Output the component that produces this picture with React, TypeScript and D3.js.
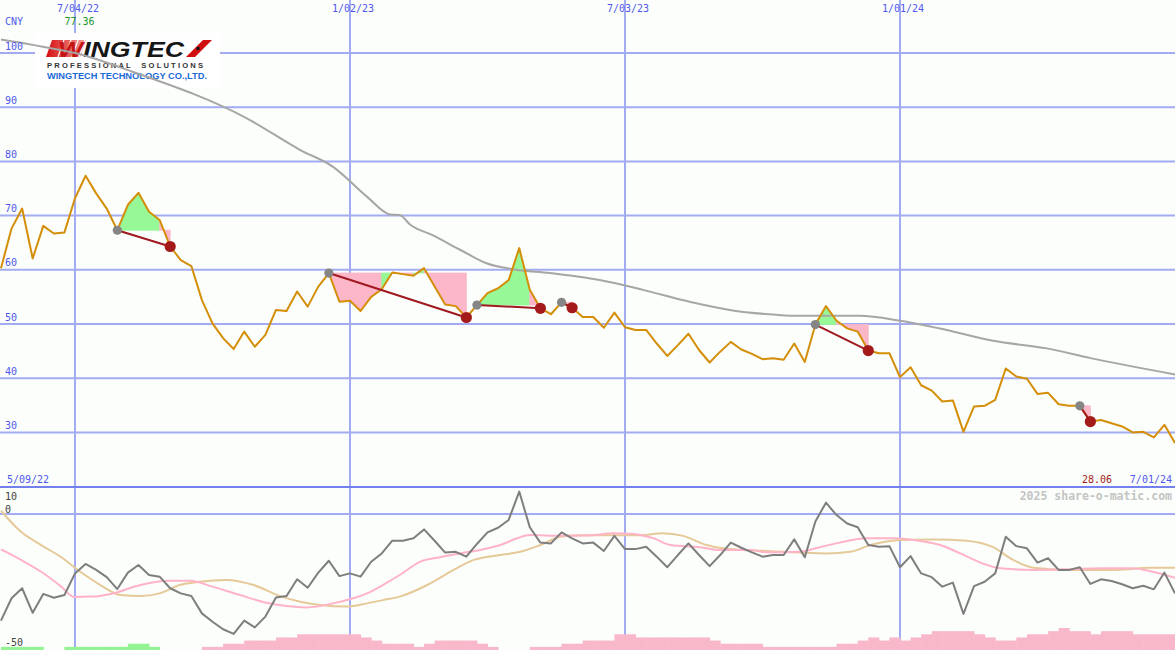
import React from "react";
import * as d3 from "d3";

// ---------- DATA ----------
const priceVals = [
  60.3, 67.6, 71.3, 62.1, 68.1, 66.7, 66.9, 73.2, 77.36, 74.1,
  71.3, 67.3, 72.0, 74.2, 70.7, 69.2, 64.3, 61.8, 60.7, 54.4,
  50.1, 47.4, 45.4, 48.6, 45.8, 48.0, 52.6, 52.4, 56.0, 53.2,
  56.9, 59.4, 54.1, 54.3, 52.4, 55.0, 56.4, 59.5, 59.2, 58.9,
  60.3, 56.9, 53.6, 53.3, 51.2, 53.5, 55.7, 56.6, 58.1, 64.0,
  56.3, 52.9, 51.8, 54.0, 53.0, 51.3, 51.3, 49.3, 52.1, 49.4,
  48.9, 48.9, 46.4, 44.1, 46.1, 48.2, 45.2, 42.9, 44.9, 46.7,
  45.3, 44.5, 43.5, 43.7, 43.4, 46.4, 43.0, 49.9, 53.3, 50.6,
  49.2, 48.6, 45.1, 44.6, 44.6, 40.2, 42.0, 38.7, 37.7, 35.7,
  35.9, 30.1, 34.8, 34.9, 36.0, 41.8, 40.3, 39.9, 37.1, 37.3,
  35.2, 34.9, 34.9, 32.0, 32.3, 31.7, 31.1, 30.0, 30.1, 29.1,
  31.4, 28.06,
];

const maIdx = [0, 3, 7.2, 12.5, 23.2, 28.3, 31.4, 34.6, 36.8, 37.7, 38.7, 40.8, 43.4, 45.9, 48.4, 51.9, 56.6, 60.7, 65.1, 68.9, 73.3, 75.5, 81.2, 85, 89.4, 93.8, 98.9, 103, 111];
const maVals = [102.5, 101.5, 99.9, 96.5, 88.0, 82.1, 79.0, 73.5, 70.2, 70.1, 68.3, 66.4, 63.7, 61.2, 60.1, 59.4, 58.1, 56.3, 54.1, 52.6, 51.7, 51.5, 51.5, 50.6, 48.9, 46.9, 45.5, 43.7, 40.7];

const oscVals = [
  -39.5, -31.2, -27.5, -36.6, -29.6, -31.0, -30.0, -22.0, -18.5, -20.7,
  -23.4, -27.8, -21.7, -18.9, -22.6, -23.2, -27.5, -29.4, -30.4, -36.8,
  -39.9, -42.7, -44.4, -39.5, -42.0, -38.0, -30.9, -30.4, -24.2, -27.3,
  -21.7, -17.3, -23.0, -22.0, -23.2, -17.7, -14.6, -9.9, -9.9, -9.0,
  -5.7, -9.9, -14.3, -14.0, -15.8, -11.1, -6.8, -5.1, -2.2, 8.3,
  -4.9, -10.6, -10.9, -6.8, -9.0, -10.9, -10.6, -13.7, -8.1, -13.0,
  -13.0, -12.1, -15.8, -19.7, -15.2, -10.9, -15.2, -19.3, -15.2, -10.6,
  -12.5, -14.2, -15.8, -15.2, -15.2, -9.4, -16.0, -2.8, 4.2, -0.4,
  -3.5, -4.9, -11.5, -12.1, -11.9, -19.7, -15.6, -22.0, -23.4, -26.9,
  -25.4, -37.0, -26.7, -25.1, -22.0, -8.4, -11.9, -12.7, -18.0, -16.4,
  -20.7, -20.7, -19.7, -25.9, -24.2, -24.8, -26.0, -27.5, -26.6, -27.9,
  -21.7, -29.4,
];

const oscPinkIdx = [0, 1.9, 3.8, 5.7, 6.9, 8.5, 10.4, 13.2, 15.7, 17.9, 20.0, 22.6, 25.1, 27.0, 28.9, 31.4, 33.3, 34.6, 36.1, 37.7, 39.6, 41.5, 43.4, 45.3, 47.2, 48.8, 50.0, 52.9, 55.4, 57.9, 59.8, 61.7, 63.3, 66.1, 68.0, 70.8, 72.4, 75.5, 77.4, 79.3, 81.8, 84.4, 86.3, 88.8, 90.7, 92.6, 94.5, 97.6, 100.8, 103.9, 107.0, 108.9, 111];
const oscPinkVals = [-13.1, -17.0, -21.4, -26.9, -30.7, -30.6, -29.6, -26.3, -24.7, -24.7, -26.9, -30.0, -32.9, -34.1, -34.6, -33.1, -31.2, -29.4, -26.3, -22.6, -17.7, -16.0, -14.6, -13.3, -11.5, -9.0, -7.8, -8.1, -8.0, -7.1, -7.4, -9.0, -11.5, -12.3, -13.3, -13.3, -14.2, -14.0, -12.3, -10.6, -9.0, -9.0, -9.6, -11.5, -14.6, -18.0, -20.1, -20.7, -20.5, -20.1, -20.1, -21.4, -23.6];

const oscTanIdx = [0, 1.9, 3.8, 5.7, 7.5, 9.4, 11.3, 13.2, 15.0, 16.9, 18.8, 21.3, 23.9, 26.4, 28.3, 30.2, 32.7, 34.6, 36.1, 37.7, 40.3, 42.8, 44.7, 47.2, 49.1, 51.0, 52.9, 54.7, 57.9, 60.4, 62.6, 64.5, 66.7, 69.2, 72.4, 75.5, 78.1, 80.3, 82.2, 85.0, 88.2, 91.3, 93.8, 95.7, 97.6, 100.8, 105.5, 108.7, 111];
const oscTanVals = [1.2, -6.6, -11.5, -16.0, -21.4, -26.3, -30.0, -30.4, -29.4, -26.3, -25.1, -24.4, -26.3, -30.4, -32.5, -33.7, -34.3, -33.1, -31.9, -30.6, -26.3, -20.7, -17.0, -15.2, -14.0, -11.5, -8.4, -7.9, -7.9, -7.9, -7.1, -8.1, -11.5, -13.1, -13.7, -14.3, -14.6, -14.0, -11.5, -9.6, -9.4, -9.9, -12.3, -17.0, -19.9, -20.7, -20.7, -19.9, -19.9];

// histogram: positive = green, negative = pink
const histVals = [
  1, 1, 1, 1, 0, 0, 1, 1, 1, 1,
  1, 1, 2, 2, 1, 0, 0, 0, 0, -1,
  -1, -2, -2, -3, -3, -3, -4, -4, -5, -5,
  -5, -5, -5, -5, -4, -3, -2, -2, -2, -1,
  -2, -3, -3, -3, -3, -2, -1, 0, 0, 0,
  -1, -1, -1, -2, -2, -3, -3, -3, -5, -5,
  -4, -4, -4, -4, -4, -4, -4, -3, -2, -2,
  -2, -2, -1, -1, -1, -1, -1, -1, -1, -2,
  -2, -3, -4, -3, -4, -3, -4, -5, -6, -6,
  -6, -6, -5, -4, -3, -3, -4, -5, -5, -6,
  -7, -6, -6, -5, -6, -6, -6, -5, -5, -5,
  -5,
];

const sigStart = [11, 31, 45, 53, 77, 102];
const sigEnd = [16, 44, 51, 54, 82, 103];

const priceTicks = [100, 90, 80, 70, 60, 50, 40, 30];
const dateTickIdx = [7, 33, 59, 85];
const dateTickLabels = ["7/04/22", "1/02/23", "7/03/23", "1/01/24"];

// ---------- CHART ----------
const W = 1175;
const H = 650;
const BLUE_TXT = "#5058ee";
const GRID = "#a3acf2";
const MONO = "'DejaVu Sans Mono', monospace";

export default function App() {
  const x = d3.scaleLinear().domain([7, 85]).range([75, 900]);
  const y = d3.scaleLinear().domain([30, 100]).range([432.4, 53]);
  const yo = d3.scaleLinear().domain([-50, 10]).range([649, 487]);
  const yh = d3.scaleLinear().domain([0, 7]).range([650, 628]);

  const priceLine = d3
    .line<number>()
    .x((_, i) => x(i))
    .y((d) => y(d));
  const maLine = d3
    .line<number>()
    .x((_, i) => x(maIdx[i]))
    .y((d) => y(d))
    .curve(d3.curveMonotoneX);
  const oscLine = d3
    .line<number>()
    .x((_, i) => x(i))
    .y((d) => yo(d));
  const pinkLine = d3
    .line<number>()
    .x((_, i) => x(oscPinkIdx[i]))
    .y((d) => yo(d))
    .curve(d3.curveMonotoneX);
  const tanLine = d3
    .line<number>()
    .x((_, i) => x(oscTanIdx[i]))
    .y((d) => yo(d))
    .curve(d3.curveMonotoneX);

  const step = x(1) - x(0);

  // signal fills
  const fills: { d: string; c: string }[] = [];
  sigStart.forEach((s, k) => {
    const e = sigEnd[k];
    const level = priceVals[s];
    for (let i = s; i < e; i++) {
      const seg = [i, i + 1];
      const area = d3
        .area<number>()
        .x((j) => x(j))
        .y0(() => y(level))
        .y1((j) => y(priceVals[j]));
      fills.push({
        d: area(seg) || "",
        c: priceVals[i + 1] >= level ? "#96f896" : "#fbb6c8",
      });
    }
  });

  return (
    <svg
      width={W}
      height={H}
      style={{ position: "absolute", left: 0, top: 0, display: "block" }}
    >
      <defs>
        <linearGradient id="redg" x1="0" x2="1" y1="0" y2="0">
          <stop offset="0%" stopColor="#d40e0e" />
          <stop offset="100%" stopColor="#f6a0a0" />
        </linearGradient>
        <clipPath id="topClip">
          <rect x={0} y={0} width={W} height={486} />
        </clipPath>
        <clipPath id="botClip">
          <rect x={0} y={488} width={W} height={162} />
        </clipPath>
      </defs>
      <rect x={0} y={0} width={W} height={H} fill="#fbfefb" />

      {/* horizontal grid */}
      {priceTicks.map((t) => (
        <line key={t} x1={0} x2={W} y1={y(t)} y2={y(t)} stroke={GRID} strokeWidth={2} />
      ))}
      <line x1={0} x2={W} y1={yo(0)} y2={yo(0)} stroke={GRID} strokeWidth={2} />

      {/* vertical grid */}
      {dateTickIdx.map((t) => (
        <line key={t} x1={x(t)} x2={x(t)} y1={0} y2={H} stroke={GRID} strokeWidth={2} />
      ))}
      <line x1={0} x2={W} y1={487} y2={487} stroke="#7480ee" strokeWidth={2} />

      {/* logo */}
      <g>
        <rect x={35} y={33} width={185} height={55} fill="#ffffff" />
        <polygon points="52,40 86,40 80,57 46,57" fill="url(#redg)" />
        {[0, 1, 2, 3].map((k) => (
          <line
            key={k}
            x1={58 + k * 7}
            y1={57}
            x2={64 + k * 7}
            y2={40}
            stroke="#ffffff"
            strokeWidth={1.2}
          />
        ))}
        <text
          x={58}
          y={56.5}
          fontFamily="'Liberation Sans', Arial, sans-serif"
          fontWeight="bold"
          fontStyle="italic"
          fontSize={22.5}
          textLength={126}
          lengthAdjust="spacingAndGlyphs"
          fill="#161616"
        >
          <tspan fill="#c41414">W</tspan>INGTEC
        </text>
        <polygon points="186,57 203,40 212,40 195,57" fill="#d01010" />
        <rect x={196.5} y={47} width={3} height={3} fill="#111" />
        <text
          x={47}
          y={67.5}
          fontFamily="'Liberation Sans', Arial, sans-serif"
          fontWeight="bold"
          fontSize={7.6}
          textLength={156}
          lengthAdjust="spacing"
          fill="#333"
          xmlSpace="preserve"
        >
          PROFESSIONAL  SOLUTIONS
        </text>
        <text
          x={47}
          y={78.5}
          fontFamily="'Liberation Sans', Arial, sans-serif"
          fontWeight="bold"
          fontSize={9.4}
          textLength={160}
          lengthAdjust="spacingAndGlyphs"
          fill="#1c6ad6"
        >
          WINGTECH TECHNOLOGY CO.,LTD.
        </text>
      </g>

      {/* top panel */}
      <g clipPath="url(#topClip)">
        {fills.map((f, i) => (
          <path key={i} d={f.d} fill={f.c} stroke={f.c} strokeWidth={0.8} />
        ))}
        <path d={maLine(maVals) || ""} fill="none" stroke="#a6a6a6" strokeWidth={2} />
        <path
          d={priceLine(priceVals) || ""}
          fill="none"
          stroke="#d48e08"
          strokeWidth={2}
          strokeLinejoin="round"
        />
        {sigStart.map((s, k) => (
          <line
            key={"t" + k}
            x1={x(s)}
            y1={y(priceVals[s])}
            x2={x(sigEnd[k])}
            y2={y(priceVals[sigEnd[k]])}
            stroke="#a01820"
            strokeWidth={2}
          />
        ))}
        {sigStart.map((s, k) => (
          <circle key={"g" + k} cx={x(s)} cy={y(priceVals[s])} r={4.6} fill="#858585" />
        ))}
        {sigEnd.map((e, k) => (
          <circle key={"r" + k} cx={x(e)} cy={y(priceVals[e])} r={5.6} fill="#a41a1a" />
        ))}
      </g>

      {/* bottom panel */}
      <g clipPath="url(#botClip)">
        {histVals.map((v, i) =>
          v === 0 ? null : (
            <rect
              key={i}
              x={x(i)}
              y={yh(Math.abs(v))}
              width={step + 0.5}
              height={H - yh(Math.abs(v))}
              fill={v > 0 ? "#94f494" : "#f9b8ca"}
            />
          )
        )}
        <path d={tanLine(oscTanVals) || ""} fill="none" stroke="#e6c998" strokeWidth={2} />
        <path d={pinkLine(oscPinkVals) || ""} fill="none" stroke="#ffb2c8" strokeWidth={2} />
        <path d={oscLine(oscVals) || ""} fill="none" stroke="#7e7e7e" strokeWidth={2} strokeLinejoin="round" />
      </g>

      {/* texts */}
      <g fontFamily={MONO} fontSize={10}>
        {dateTickIdx.map((t, k) => (
          <text key={t} x={x(t) + 3} y={12} textAnchor="middle" fill={BLUE_TXT}>
            {dateTickLabels[k]}
          </text>
        ))}
        <text x={5} y={25} fill={BLUE_TXT}>CNY</text>
        <text x={x(8) - 6} y={25} textAnchor="middle" fill="#22962a">
          {priceVals[8].toFixed(2)}
        </text>
        {priceTicks.map((t) => (
          <text key={t} x={5} y={y(t) - 3.5} fill={BLUE_TXT}>
            {t}
          </text>
        ))}
        <text x={7} y={483} fill={BLUE_TXT}>5/09/22</text>
        <text x={1112} y={483} textAnchor="end" fill="#a41a1a">
          {priceVals[priceVals.length - 1].toFixed(2)}
        </text>
        <text x={1172} y={483} textAnchor="end" fill={BLUE_TXT}>7/01/24</text>
        <text x={5} y={500} fill="#444">10</text>
        <text x={5} y={513} fill="#444">0</text>
        <text x={5} y={646} fill="#444">-50</text>
        <text
          x={1172}
          y={500}
          textAnchor="end"
          fontSize={11.5}
          fontWeight="bold"
          fill="#c4c4c4"
        >
          2025 share-o-matic.com
        </text>
      </g>
    </svg>
  );
}
